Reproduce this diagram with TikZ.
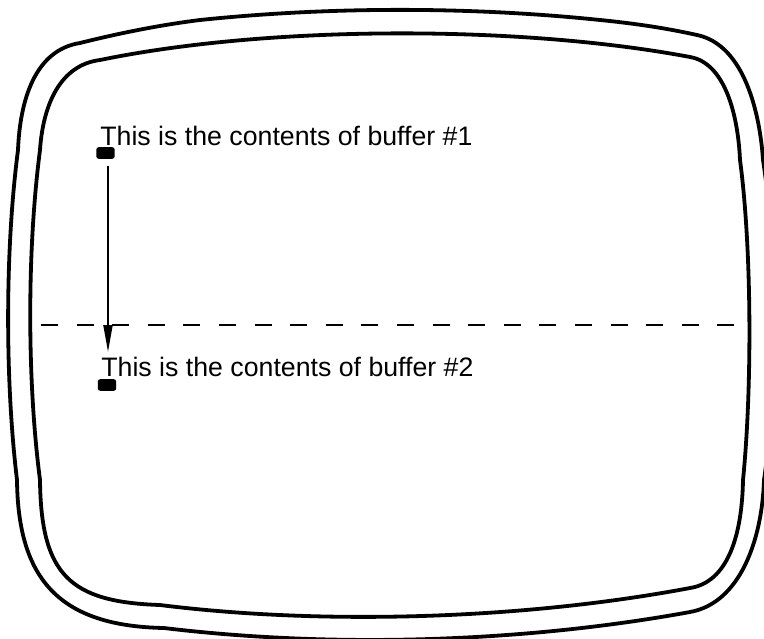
\documentclass[tikz,border=0pt]{standalone}
\usepackage{fontspec}
\setmainfont{Liberation Sans}
\usetikzlibrary{arrows.meta}

\begin{document}
\begin{tikzpicture}[x=0.5pt,y=-0.5pt]
\tikzset{
  bz/.style={line width=1.9pt,draw=black,line join=round},
  tx/.style={anchor=base west,inner sep=0pt,font=\fontsize{13.35}{16}\selectfont},
  cur/.style={rectangle,fill=black,rounded corners=1.2pt,minimum width=9.2pt,minimum height=5.8pt,inner sep=0pt},
  ar/.style={-{Triangle[length=13.5pt,width=4.5pt]},line width=1pt},
  dl/.style={line width=1.2pt,dash pattern=on 8.5pt off 9.3pt}
}
\clip (0,0) rectangle (764,638);
% outer bezel
\draw[bz] (17,480) .. controls (5,380) and (5,250) .. (18,150)
  .. controls (20,100) and (35,50) .. (80,43)
  .. controls (120,33) and (160,25) .. (200,20)
  .. controls (330,6.5) and (470,6.5) .. (600,20)
  .. controls (640,24) and (670,29) .. (697,35)
  .. controls (745,45) and (760,115) .. (763,160)
  .. controls (777,250) and (777,390) .. (764,480)
  .. controls (762,540) and (740,603) .. (690,612)
  .. controls (520,643) and (330,648) .. (164,628)
  .. controls (60,626) and (18,580) .. (17,480) -- cycle;
% screen
\draw[bz] (40,480) .. controls (27,380) and (27,250) .. (40,150)
  .. controls (43,105) and (60,65) .. (100,60)
  .. controls (270,25) and (520,25) .. (690,57)
  .. controls (725,63) and (738,115) .. (740,160)
  .. controls (752,250) and (752,390) .. (743,480)
  .. controls (742,535) and (728,582) .. (690,588)
  .. controls (520,620) and (320,625) .. (160,605)
  .. controls (70,602) and (41,575) .. (40,480) -- cycle;
% buffers
\node[tx] (buf1) at (100,145) {This is the contents of buffer \#1};
\node[cur] (cur1) at (105.5,153) {};
\node[tx] (buf2) at (101,376) {This is the contents of buffer \#2};
\node[cur] (cur2) at (107,385) {};
\draw[dl] (41,325) -- (737,325);
\coordinate (tip) at (108,352);
\draw[ar,shorten <=3.5pt] (cur1.south -| tip) -- (tip);
\end{tikzpicture}
\end{document}
